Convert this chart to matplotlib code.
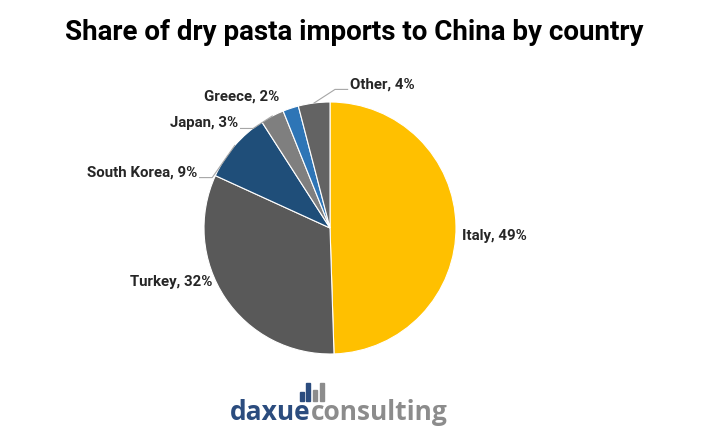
import math
import matplotlib
matplotlib.use("Agg")
import matplotlib.pyplot as plt
from matplotlib.patches import Rectangle

# data
countries = ["Italy", "Turkey", "South Korea", "Japan", "Greece", "Other"]
shares = [49, 32, 9, 3, 2, 4]
colors = ["#FFC000", "#595959", "#1F4E79", "#7F7F7F", "#2E75B6", "#636363"]

# label layout (data coords of the unit pie), alignment, draw leader?
label_pos = {
    "Italy": (1.05, -0.065, "left", False),
    "Turkey": (-0.93, -0.43, "right", False),
    "South Korea": (-1.055, 0.44, "right", True),
    "Japan": (-0.73, 0.83, "right", True),
    "Greece": (-0.405, 1.04, "right", False),
    "Other": (0.16, 1.14, "left", True),
}

W, H = 709, 434
plt.rcParams["font.family"] = ["Roboto", "DejaVu Sans"]
fig = plt.figure(figsize=(W / 100, H / 100), dpi=100)

cx, cy, r = 330, 228, 126
ax = fig.add_axes([(cx - r) / W, (H - cy - r) / H, 2 * r / W, 2 * r / H])
wedges, _ = ax.pie(shares, colors=colors, startangle=90, counterclock=False,
                   wedgeprops=dict(edgecolor="white", linewidth=0.8))
ax.set_xlim(-1, 1)
ax.set_ylim(-1, 1)
ax.set_aspect("equal")
ax.axis("off")

for w, name, val in zip(wedges, countries, shares):
    lx, ly, ha, leader = label_pos[name]
    ax.text(lx, ly, f"{name}, {val}%", ha=ha, va="center", fontsize=10.8,
            fontweight="bold", color="#262626", clip_on=False)
    if leader:
        # short horizontal tick from label, then to wedge edge
        mid = math.radians((w.theta1 + w.theta2) / 2)
        ex, ey = math.cos(mid), math.sin(mid)
        sx = lx + (0.02 if ha == "right" else -0.02)
        kx = sx + (0.1 if ha == "right" else -0.1)
        ax.plot([sx, kx, ex], [ly - 0.04, ly - 0.04, ey], color="#A6A6A6",
                lw=0.8, clip_on=False)

fig.text(0.5, 1 - 33 / H, "Share of dry pasta imports to China by country",
         ha="center", va="center", fontsize=20, fontweight="bold", color="black")

# logo
logo_font = ["Open Sans", "DejaVu Sans"]
t1 = fig.text(230 / W, 1 - 413 / H, "daxue", ha="left", va="center", fontsize=19,
              fontweight="bold", color="#2B4C7E", family=logo_font)
fig.canvas.draw()
bb = t1.get_window_extent()
fig.text(bb.x1 / W, 1 - 413 / H, "consulting", ha="left", va="center", fontsize=19,
         fontweight="bold", color="#8C8C8C", family=logo_font)
bars = [(300, 392, "#2B4C7E"), (306, 383, "#2B4C7E"), (313, 390, "#8C8C8C"), (320, 383, "#8C8C8C")]
for bx, top, c in bars:
    fig.patches.append(Rectangle((bx / W, 1 - 401 / H), 3.5 / W, (401 - top) / H,
                                 transform=fig.transFigure, color=c))

fig.savefig("out.png", dpi=100, facecolor="white")
